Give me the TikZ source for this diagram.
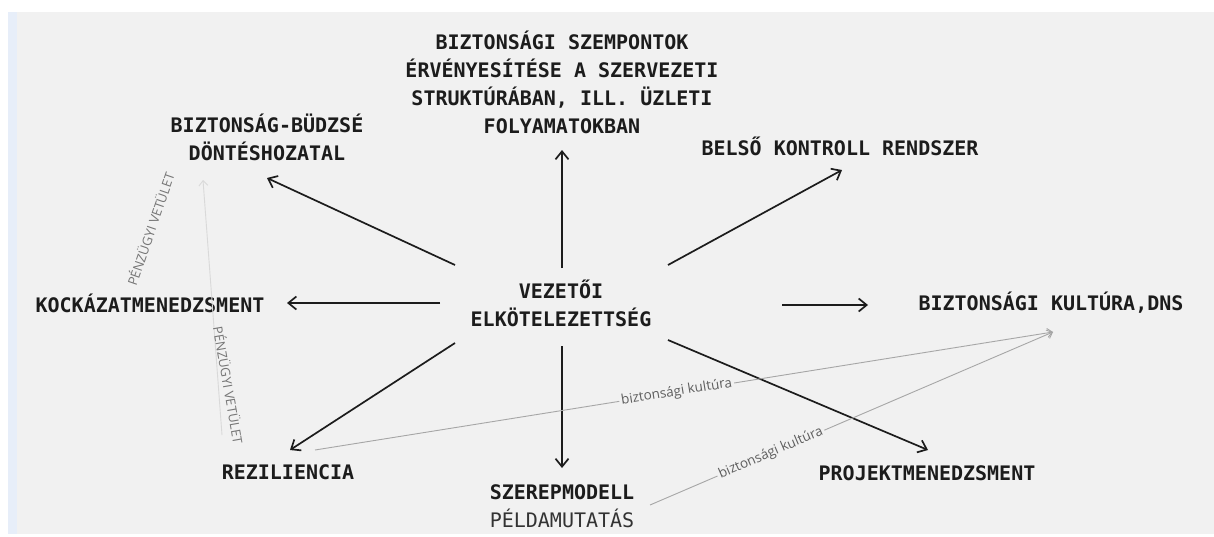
\documentclass[tikz,border=0pt]{standalone}
\usepackage{fontspec}
\setmonofont{DejaVu Sans Mono}
\newfontfamily\notefont{Open Sans}
\usetikzlibrary{arrows.meta}
\definecolor{canvas}{HTML}{F1F1F1}
\definecolor{edgeblue}{HTML}{E7EEF9}
\definecolor{ink}{HTML}{1C1C1C}
\definecolor{subink}{HTML}{333333}
\definecolor{notegray}{HTML}{5E5E5E}
\definecolor{wire}{HTML}{A6A6A6}
\definecolor{faint}{HTML}{D9D9D9}
\begin{document}
\begin{tikzpicture}[x=1pt,y=-1pt,
  topic/.style={font=\fontsize{20}{28}\selectfont\ttfamily\bfseries, text=ink, align=center, inner sep=0pt},
  arr/.style={draw=ink, line width=1.7pt, -{Straight Barb[length=8pt,width=13pt]}},
  link/.style={draw=wire, line width=0.9pt, -{Straight Barb[length=5pt,width=9pt]}},
  faintlink/.style={draw=faint, line width=0.9pt, -{Straight Barb[length=5pt,width=9pt]}},
  note/.style={font=\notefont\fontsize{13.5}{15}\selectfont, text=notegray, fill=canvas, inner sep=2pt},
  lightnote/.style={font=\notefont\fontsize{13}{15}\selectfont, text=notegray!85, inner sep=1pt}]

% page and canvas
\useasboundingbox (0,0) rectangle (1214,536);
\fill[white] (0,0) rectangle (1214,536);
\fill[canvas] (8,12) rectangle (1214,534);
\fill[edgeblue] (8,12) rectangle (17,534);

% topics
\node[topic] (lead)    at (561,303)   {VEZETŐI\\ELKÖTELEZETTSÉG};
\node[topic] (struct)  at (562,82)    {BIZTONSÁGI SZEMPONTOK\\ÉRVÉNYESÍTÉSE A SZERVEZETI\\STRUKTÚRÁBAN, ILL. ÜZLETI\\FOLYAMATOKBAN};
\node[topic] (budget)  at (267,137.5) {BIZTONSÁG-BÜDZSÉ\\DÖNTÉSHOZATAL};
\node[topic] (control) at (840,146)   {BELSŐ KONTROLL RENDSZER};
\node[topic] (risk)    at (150,303)   {KOCKÁZATMENEDZSMENT};
\node[topic] (culture) at (1051,303)  {BIZTONSÁGI KULTÚRA,DNS};
\node[topic] (resil)   at (288,472)   {REZILIENCIA};
\node[topic] (role)    at (562,506)   {SZEREPMODELL\\{\mdseries\color{subink}PÉLDAMUTATÁS}};
\node[topic] (project) at (927,473)   {PROJEKTMENEDZSMENT};

% arrows from the centre
\draw[arr] ([shift={(1,-35)}]lead.center)   -- ([shift={(0,68)}]struct.center);
\draw[arr] ([shift={(-106,-38)}]lead.center) -- ([shift={(0,40.5)}]budget.center);
\draw[arr] ([shift={(107,-38)}]lead.center)  -- ([shift={(2,24)}]control.center);
\draw[arr] ([shift={(-121,0)}]lead.center)   -- ([shift={(137,0)}]risk.center);
\draw[arr] ([shift={(221,2)}]lead.center)    -- ([shift={(-183,2)}]culture.center);
\draw[arr] ([shift={(-106,40)}]lead.center)  -- ([shift={(2,-22)}]resil.center);
\draw[arr] ([shift={(1,43)}]lead.center)     -- ([shift={(0,-38)}]role.center);
\draw[arr] ([shift={(107,37)}]lead.center)   -- ([shift={(1,-23)}]project.center);

% safety culture links
\draw[link] ([shift={(27,-22)}]resil.center) -- node[note, sloped, pos=0.49] {biztonsági kultúra} ([shift={(2,29)}]culture.center);
\draw[link] ([shift={(88,-1)}]role.center) -- node[note, sloped, pos=0.30] {biztonsági kultúra} ([shift={(2,29)}]culture.center);

% financial projection
\draw[faintlink] ([shift={(-66,-37)}]resil.center) -- ([shift={(-64,42.5)}]budget.center);
\node[lightnote, rotate=-80] (fin1) at (229,385) {PÉNZÜGYI VETÜLET};
\node[lightnote, rotate=71]  (fin2) at (150,229) {PÉNZÜGYI VETÜLET};
\end{tikzpicture}
\end{document}
